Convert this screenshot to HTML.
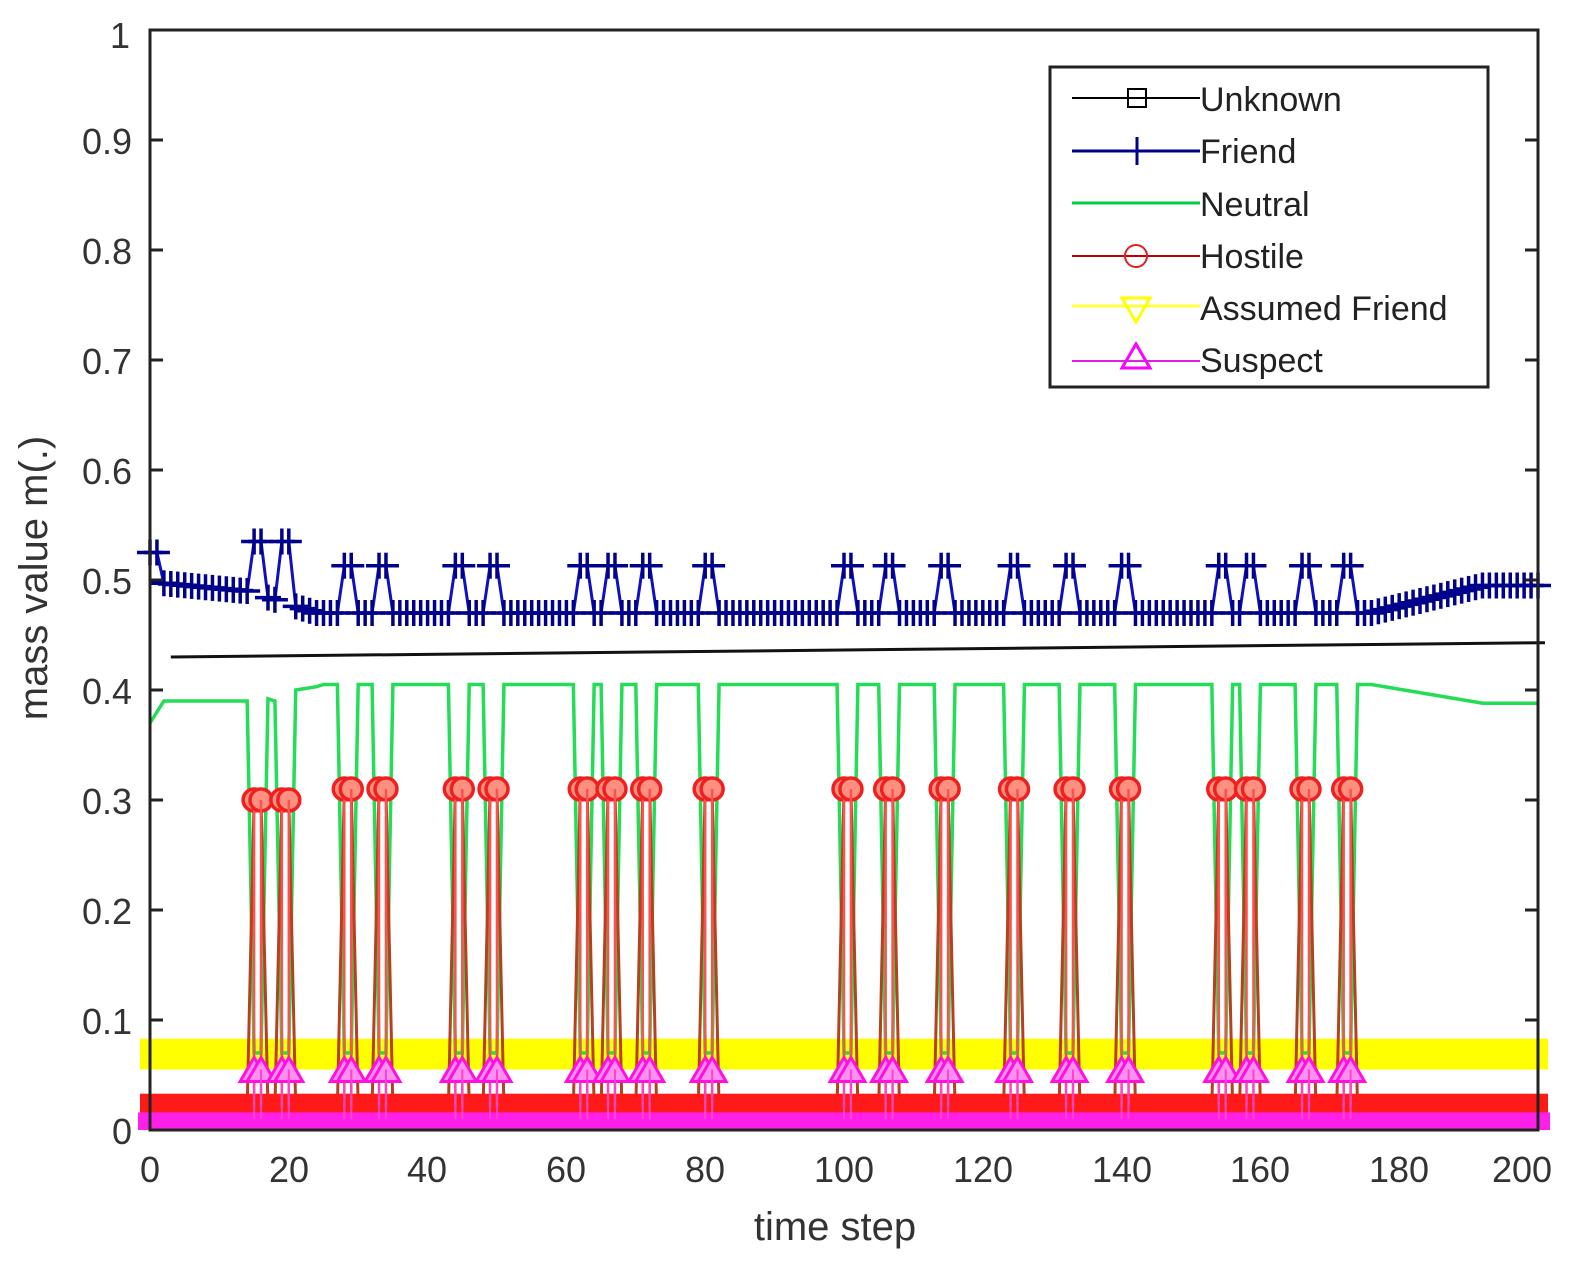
<!DOCTYPE html>
<html><head><meta charset="utf-8"><style>
html,body{margin:0;padding:0;background:#fff;}
svg{display:block;font-family:"Liberation Sans",sans-serif;}
</style></head><body>
<svg id="s" width="1583" height="1288" viewBox="0 0 1583 1288" xmlns="http://www.w3.org/2000/svg">
<rect width="1583" height="1288" fill="#fff"/>
<g id="plot"></g>
<rect x="150" y="30" width="1388" height="1100" fill="none" stroke="#222" stroke-width="3"/>
<g id="ticks" stroke="#222" stroke-width="3"></g>
<g font-size="36" fill="#333" text-anchor="end">
<text x="132" y="1144">0</text><text x="132" y="1034">0.1</text><text x="132" y="924">0.2</text><text x="132" y="814">0.3</text><text x="132" y="704">0.4</text><text x="132" y="594">0.5</text><text x="132" y="484">0.6</text><text x="132" y="374">0.7</text><text x="132" y="264">0.8</text><text x="132" y="154">0.9</text><text x="130" y="48">1</text>
</g>
<g font-size="36" fill="#333" text-anchor="middle">
<text x="150" y="1182">0</text><text x="289" y="1182">20</text><text x="427" y="1182">40</text><text x="566" y="1182">60</text><text x="705" y="1182">80</text><text x="844" y="1182">100</text><text x="983" y="1182">120</text><text x="1122" y="1182">140</text><text x="1260" y="1182">160</text><text x="1399" y="1182">180</text><text x="1522" y="1182">200</text>
<text x="835" y="1240" font-size="40">time step</text>
<text x="0" y="0" font-size="40" transform="translate(47,578) rotate(-90)">mass value m(.)</text>
</g>
<g>
<rect x="1050" y="67" width="438" height="320" fill="#fff" stroke="#222" stroke-width="3"/>
<line x1="1072" y1="98" x2="1200" y2="98" stroke="#000" stroke-width="2"/><rect x="1128" y="89" width="18" height="18" fill="none" stroke="#000" stroke-width="2"/>
<line x1="1072" y1="151" x2="1200" y2="151" stroke="#00008b" stroke-width="3"/><line x1="1137" y1="137" x2="1137" y2="165" stroke="#00008b" stroke-width="3"/>
<line x1="1072" y1="203" x2="1200" y2="203" stroke="#00cc44" stroke-width="3"/>
<line x1="1072" y1="256" x2="1200" y2="256" stroke="#c00000" stroke-width="2"/><circle cx="1136" cy="256" r="11" fill="none" stroke="#e02020" stroke-width="2"/>
<line x1="1072" y1="306" x2="1200" y2="306" stroke="#ffff40" stroke-width="3"/><polygon points="1122,298 1150,298 1136,322" fill="none" stroke="#ffff00" stroke-width="3"/>
<line x1="1072" y1="361" x2="1200" y2="361" stroke="#e020e0" stroke-width="2"/><polygon points="1122,368 1150,368 1136,344" fill="none" stroke="#ff00ff" stroke-width="3"/>
<g font-size="34" fill="#222"><text x="1200" y="111">Unknown</text><text x="1200" y="163">Friend</text><text x="1200" y="216">Neutral</text><text x="1200" y="268">Hostile</text><text x="1200" y="320">Assumed Friend</text><text x="1200" y="372">Suspect</text></g>
</g>
</svg>
<script>
var NS="http://www.w3.org/2000/svg";
function X(t){return 150+t*6.94;}
function Y(v){return 1130-1100*v;}
var g=document.getElementById('plot');
function el(n,a){var e=document.createElementNS(NS,n);for(var k in a)e.setAttribute(k,a[k]);g.appendChild(e);return e;}
var tk=document.getElementById('ticks');
for(var i=1;i<10;i++){var y=Y(i/10);tk.innerHTML+='<line x1="150" y1="'+y+'" x2="163" y2="'+y+'"/><line x1="1525" y1="'+y+'" x2="1538" y2="'+y+'"/>';}
var S=[15,19,28,33,44,49,62,66,71,80,100,106,114,124,132,140,154,158,166,172];
var sp={};S.forEach(function(s){sp[s]=1;sp[s+1]=1;});
var F=[],N=[],H=[];
for(var t=0;t<=200;t++){
 var f,n;
 if(t<2){f=0.525;n=0.37+0.01*t;}
 else if(t<14){f=0.497-0.0006*(t-2);n=0.39;}
 else if(t<25){f=0.49-0.002*(t-14);n=(t==17)?0.392:(t<21?0.39:0.40+0.001*(t-21));}
 else if(t<176){f=0.47;n=0.405;}
 else {var k=Math.min(1,(t-176)/16);f=0.47+0.025*k;n=0.405-0.017*k;}
 var h=0.02;
 if(sp[t]){f=(t<25)?0.535:0.513;n=0.07;h=(t<25)?0.30:0.31;}
 F.push(f);N.push(n);H.push(h);
}
function pts(a){return a.map(function(v,t){return X(t)+','+Y(v);}).join(' ');}
el('rect',{x:X(0)-10,y:Y(0.083),width:X(200)-X(0)+20,height:Y(0.055)-Y(0.083),fill:'#ffff00'});
el('polyline',{points:pts(N),fill:'none',stroke:'#22dd55','stroke-width':3.5});
el('polyline',{points:pts(H),fill:'none',stroke:'#b84020','stroke-width':3});
el('rect',{x:X(0)-10,y:Y(0.033),width:X(200)-X(0)+20,height:Y(0.014)-Y(0.033),fill:'#ff1a1a'});
el('rect',{x:X(0)-12,y:Y(0.016),width:X(200)-X(0)+24,height:Y(0.0)-Y(0.016),fill:'#ff20e8'});
S.forEach(function(s){[s,s+1].forEach(function(t){
 el('circle',{cx:X(t),cy:Y(H[t]),r:11,fill:'#ff9080',stroke:'#ee2020','stroke-width':3.5});
 el('line',{x1:X(t),y1:Y(H[t]),x2:X(t),y2:Y(0.02),stroke:'#ff5050','stroke-width':2.5});
 var cy=Y(0.055);
 el('polygon',{points:(X(t)-14)+','+(cy+12)+' '+(X(t)+14)+','+(cy+12)+' '+X(t)+','+(cy-12),fill:'#ff90f0',stroke:'#ff10e0','stroke-width':3});
 el('line',{x1:X(t),y1:cy,x2:X(t),y2:Y(0.01),stroke:'#ff40d0','stroke-width':2});
});});
el('line',{x1:X(3),y1:Y(0.43),x2:1545,y2:Y(0.443),stroke:'#111','stroke-width':3});
el('polyline',{points:pts(F),fill:'none',stroke:'#1010c0','stroke-width':3});
F.forEach(function(v,t){var x=X(t),y=Y(v);
 el('line',{x1:x,y1:y-13,x2:x,y2:y+13,stroke:'#00008b','stroke-width':3.5});
 el('line',{x1:x-13,y1:y,x2:x+13,y2:y,stroke:'#00008b','stroke-width':3.5});});
</script>
</body></html>
